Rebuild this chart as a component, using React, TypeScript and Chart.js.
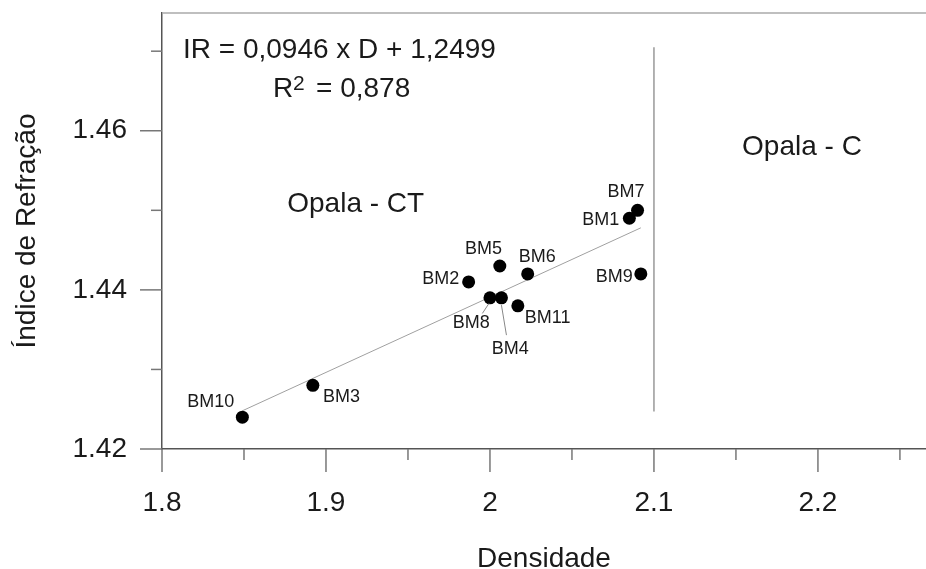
import React, { useEffect, useRef } from 'react';
import { Chart, registerables } from 'chart.js';

Chart.register(...registerables);

// ---- data ----
const sampleNames = ['BM1', 'BM2', 'BM3', 'BM4', 'BM5', 'BM6', 'BM7', 'BM8', 'BM9', 'BM10', 'BM11'];
const density = [2.085, 1.987, 1.892, 2.007, 2.006, 2.023, 2.09, 2.0, 2.092, 1.849, 2.017];
const refractiveIndex = [1.449, 1.441, 1.428, 1.439, 1.443, 1.442, 1.450, 1.439, 1.442, 1.424, 1.438];
const fitDensity = [1.849, 2.092];
const fitIndex = [1.4248, 1.4478];
const boundaryDensity = [2.1, 2.1];
const boundaryIndex = [1.4247, 1.4705];
const xRange = [1.8, 2.2659];
const yRange = [1.42, 1.4748];
const xTicks = [1.8, 1.9, 2.0, 2.1, 2.2];
const xTickLabels = ['1.8', '1.9', '2', '2.1', '2.2'];
const xMinorTicks = [1.85, 1.95, 2.05, 2.15, 2.25];
const yTicks = [1.42, 1.44, 1.46];
const yTickLabels = ['1.42', '1.44', '1.46'];
const yMinorTicks = [1.43, 1.45, 1.47];
const xTitle = 'Densidade';
const yTitle = 'Índice de Refração';
const equationText = 'IR = 0,0946 x D + 1,2499';
const r2Value = '0,878';
const regionCT = 'Opala - CT';
const regionC = 'Opala - C';

// ---- styles / layout (pixels) ----
const FONT = '"Liberation Sans", Arial, Helvetica, sans-serif';
const TEXT = '#1a1a1a';
const labelOffsets: Record<string, [number, number]> = {
  BM1: [-28.5, 1.7],
  BM2: [-27.8, -2.4],
  BM3: [28.6, 12],
  BM4: [8.8, 51.3],
  BM5: [-16.2, -16.7],
  BM6: [9.5, -16.6],
  BM7: [-11.5, -18.3],
  BM8: [-18.8, 25.6],
  BM9: [-26.5, 3],
  BM10: [-31.5, -15],
  BM11: [29.8, 12.6],
};
const leaderOffsets: Record<string, [number, number, number, number]> = {
  BM8: [-7.6, 15.6, -1, 5.6],
  BM4: [5, 37.3, 0, 7.3],
};

const decorPlugin = {
  id: 'decor',
  afterDatasetsDraw(chart: any) {
    const { ctx, chartArea, scales } = chart;
    const xs = scales.x;
    const ys = scales.y;
    ctx.save();
    // top border
    ctx.strokeStyle = '#aaaaaa';
    ctx.lineWidth = 1.5;
    ctx.beginPath();
    ctx.moveTo(chartArea.left, chartArea.top);
    ctx.lineTo(chartArea.right, chartArea.top);
    ctx.stroke();
    // ticks
    ctx.strokeStyle = '#777777';
    ctx.lineWidth = 1.5;
    const bottom = chartArea.bottom;
    const left = chartArea.left;
    const drawX = (v: number, len: number) => {
      const px = xs.getPixelForValue(v);
      ctx.beginPath();
      ctx.moveTo(px, bottom);
      ctx.lineTo(px, bottom + len);
      ctx.stroke();
    };
    const drawY = (v: number, len: number) => {
      const py = ys.getPixelForValue(v);
      ctx.beginPath();
      ctx.moveTo(left, py);
      ctx.lineTo(left - len, py);
      ctx.stroke();
    };
    xTicks.forEach((v) => drawX(v, 23));
    xMinorTicks.forEach((v) => drawX(v, 11));
    yTicks.forEach((v) => drawY(v, 22));
    yMinorTicks.forEach((v) => drawY(v, 11));

    // point labels
    const meta = chart.getDatasetMeta(0);
    ctx.fillStyle = TEXT;
    ctx.font = `18px ${FONT}`;
    ctx.textAlign = 'center';
    ctx.textBaseline = 'middle';
    sampleNames.forEach((name, i) => {
      const el = meta.data[i];
      if (!el) return;
      const off = labelOffsets[name] || [0, -15];
      ctx.fillText(name, el.x + off[0], el.y + off[1]);
      const lead = leaderOffsets[name];
      if (lead) {
        ctx.strokeStyle = '#888888';
        ctx.lineWidth = 1;
        ctx.beginPath();
        ctx.moveTo(el.x + lead[0], el.y + lead[1]);
        ctx.lineTo(el.x + lead[2], el.y + lead[3]);
        ctx.stroke();
      }
    });

    // annotations
    ctx.font = `28px ${FONT}`;
    ctx.textBaseline = 'alphabetic';
    ctx.textAlign = 'left';
    ctx.fillText(equationText, left + 21, 58);
    ctx.fillText('R', left + 111, 96.5);
    ctx.font = `21px ${FONT}`;
    ctx.fillText('2', left + 131, 90);
    ctx.font = `28px ${FONT}`;
    ctx.fillText('= ' + r2Value, left + 154, 96.5);
    ctx.textAlign = 'center';
    ctx.fillText(regionCT, 355.7, 211.5);
    ctx.fillText(regionC, 802, 155);
    ctx.restore();
  },
};

export default function App() {
  const ref = useRef<HTMLCanvasElement | null>(null);
  useEffect(() => {
    if (!ref.current) return;
    const chart = new Chart(ref.current, {
      type: 'scatter',
      data: {
        datasets: [
          {
            data: density.map((d, i) => ({ x: d, y: refractiveIndex[i] })),
            pointRadius: 6.5,
            pointBackgroundColor: '#000000',
            pointBorderWidth: 0,
            showLine: false,
          },
          {
            data: fitDensity.map((d, i) => ({ x: d, y: fitIndex[i] })),
            showLine: true,
            borderColor: '#a0a0a0',
            borderWidth: 1,
            pointRadius: 0,
          },
          {
            data: boundaryDensity.map((d, i) => ({ x: d, y: boundaryIndex[i] })),
            showLine: true,
            borderColor: '#999999',
            borderWidth: 1.5,
            pointRadius: 0,
          },
        ],
      },
      options: {
        responsive: false,
        animation: false,
        layout: { autoPadding: false, padding: { top: 13, left: 0, right: 0, bottom: 0 } },
        plugins: { legend: { display: false }, tooltip: { enabled: false } },
        scales: {
          x: {
            type: 'linear',
            min: xRange[0],
            max: xRange[1],
            afterBuildTicks: (s: any) => {
              s.ticks = xTicks.map((v) => ({ value: v }));
            },
            afterFit: (s: any) => {
              s.height = 120;
              s.paddingLeft = 0;
              s.paddingRight = 0;
            },
            ticks: {
              callback: (_v: any, i: number) => xTickLabels[i],
              font: { size: 28, family: FONT },
              color: TEXT,
              padding: 37,
              maxRotation: 0,
              autoSkip: false,
            },
            grid: { display: true, drawOnChartArea: false, drawTicks: false },
            border: { display: true, color: '#555555', width: 1.5 },
            title: {
              display: true,
              text: xTitle,
              font: { size: 28, family: FONT, lineHeight: 0.72 },
              color: TEXT,
              padding: { top: 0, bottom: 0 },
            },
          },
          y: {
            type: 'linear',
            min: yRange[0],
            max: yRange[1],
            afterBuildTicks: (s: any) => {
              s.ticks = yTicks.map((v) => ({ value: v }));
            },
            afterFit: (s: any) => {
              s.width = 162;
              s.paddingTop = 0;
              s.paddingBottom = 0;
            },
            ticks: {
              callback: (_v: any, i: number) => yTickLabels[i],
              font: { size: 28, family: FONT },
              color: TEXT,
              padding: 35,
              autoSkip: false,
            },
            grid: { display: true, drawOnChartArea: false, drawTicks: false },
            border: { display: true, color: '#555555', width: 1.5 },
            title: {
              display: true,
              text: yTitle,
              font: { size: 28, family: FONT, lineHeight: 1 },
              color: TEXT,
              padding: { top: 13, bottom: 0 },
            },
          },
        },
      },
      plugins: [decorPlugin],
    } as any);
    return () => chart.destroy();
  }, []);
  return (
    <div style={{ position: 'fixed', left: 0, top: 0, width: 926, height: 569, background: '#fff' }}>
      <canvas ref={ref} width={926} height={569} style={{ display: 'block' }} />
    </div>
  );
}
